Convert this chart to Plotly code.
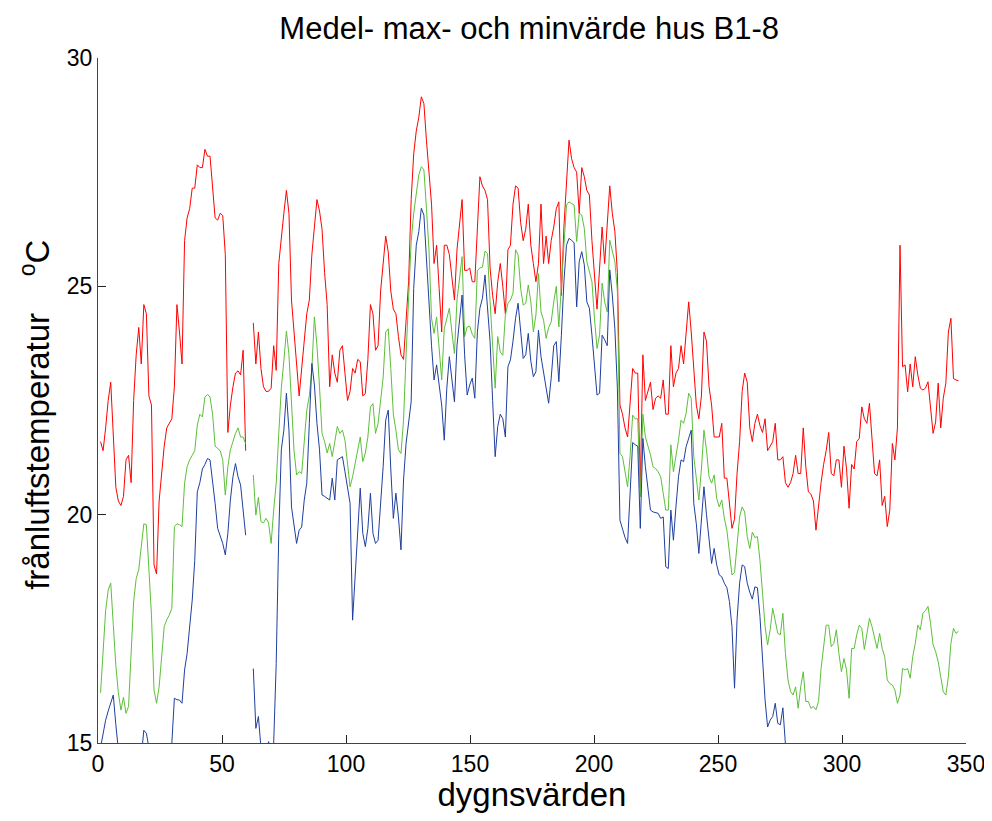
import plotly.graph_objects as go

# daily values, one reading per sample; None = missing day
max_temp = [
    21.6, 21.4, 21.9, 22.5, 22.9, 21.7, 20.6, 20.3, 20.2, 20.4,
    21.2, 21.3, 20.7, 22.5, 23.5, 24.1, 23.3, 24.6, 24.4, 22.6,
    22.4, 18.9, 18.7, 20.3, 21.0, 21.5, 21.9, 22.0, 22.1, 22.8,
    24.6, 24.0, 23.3, 26.0, 26.5, 26.7, 27.15, 27.15, 27.66, 27.6,
    27.6, 28.0, 27.85, 27.85, 27.2, 26.5, 26.45, 26.6, 26.55, 25.7,
    21.8, 22.4, 22.8, 23.1, 23.15, 23.06, 23.6, 21.4, None, None,
    24.2, 23.3, 24.0, 23.2, 22.8, 22.7, 22.7, 22.77, 23.7, 23.16,
    25.5, 26.1, 26.6, 27.1, 26.6, 24.7, 23.9, 23.3, 22.6, 23.2,
    23.7, 24.4, 24.7, 25.7, 26.3, 26.9, 26.65, 26.25, 25.3, 24.6,
    22.8, 23.5, 23.1, 22.9, 23.6, 23.7, 23.1, 22.5, 22.7, 23.2,
    23.1, 23.4, 23.35, 22.6, 22.65, 23.4, 24.6, 24.4, 23.6, 23.7,
    24.9, 25.5, 26.1, 25.75, 24.9, 24.5, 24.4, 23.9, 23.5, 23.4,
    24.2, 25.1, 26.9, 27.9, 28.4, 28.7, 29.15, 29.0, 28.2, 27.5,
    26.8, 25.5, 25.9, 24.95, 24.0, 25.9, 25.9, 25.7, 25.2, 24.7,
    25.8, 26.3, 26.9, 25.35, 25.35, 25.4, 25.1, 25.1, 26.3, 27.4,
    27.2, 27.1, 26.9, 25.4, 24.8, 24.4, 25.1, 25.5, 25.0, 24.4,
    25.8, 25.9, 26.8, 27.2, 27.15, 26.4, 26.0, 26.25, 26.8, 25.9,
    25.5, 25.1, 25.5, 26.8, 25.5, 26.1, 25.5, 26.0, 26.3, 26.7,
    26.85, 24.8, 26.3, 27.3, 28.2, 27.8, 27.6, 27.5, 26.6, 27.6,
    27.4, 27.1, 27.0, 26.0, 25.3, 24.5, 25.4, 26.3, 25.5, 26.5,
    27.2, 26.6, 26.2, 25.3, 22.4, 22.2, 21.9, 21.7, 22.5, 23.2,
    23.1, 23.1, 20.6, 23.5, 22.5, 22.7, 22.9, 22.3, 22.55, 22.6,
    22.55, 22.95, 22.2, 22.2, 23.7, 22.8, 23.1, 23.2, 23.7, 23.3,
    23.9, 24.66, 24.0, 23.1, 22.4, 22.1, 22.6, 24.0, 23.8, 22.8,
    22.4, 21.7, 21.7, 21.7, 22.0, 20.8, 20.8, 20.3, 19.7, 19.9,
    20.9, 21.6, 22.7, 23.1, 22.9, 21.9, 21.6, 22.0, 22.2, 21.95,
    21.8, 22.1, 21.4, 21.5, 21.6, 22.0, 21.2, 21.2, 21.27, 20.7,
    20.6, 20.7, 20.9, 21.3, 20.9, 20.9, 21.9, 21.05, 20.5, 20.45,
    20.3, 19.66, 20.2, 20.7, 21.1, 21.4, 21.8, 20.9, 20.85, 21.2,
    21.2, 20.6, 21.5, 21.0, 20.14, 21.1, 21.0, 21.6, 21.67, 22.36,
    22.1, 22.0, 22.44, 21.56, 20.9, 20.85, 21.2, 20.2, 20.4, 19.74,
    20.1, 21.56, 21.2, 21.9, 25.9, 23.24, 23.28, 22.69, 23.3, 22.8,
    23.46, 23.06, 22.77, 22.73, 22.77, 22.91, 22.4, 21.78, 22.03, 22.88,
    21.9, 22.55, 22.88, 24.0, 24.3, 22.98, 22.95, 22.93,
]

mean_temp = [
    16.1, 17.1, 17.9, 18.35, 18.5, 17.6, 16.7, 16.1, 15.72, 16.0,
    15.65, 15.8, 16.9, 18.1, 18.6, 18.8, 19.3, 19.8, 19.78, 18.86,
    17.8, 16.16, 15.87, 16.23, 16.95, 17.55, 17.7, 17.8, 17.95, 19.74,
    19.8, 19.78, 19.74, 20.69, 21.05, 21.2, 21.3, 21.4, 21.96, 22.2,
    22.14, 22.58, 22.63, 22.58, 22.2, 21.5, 21.45, 21.4, 21.2, 20.43,
    21.05, 21.42, 21.6, 21.78, 21.9, 21.7, 21.7, 21.55, None, None,
    20.87, 19.99, 20.38, 19.85, 19.82, 19.92, 19.82, 19.37, 20.1, 20.69,
    21.78, 22.77, 23.37, 24.02, 23.5, 22.5, 21.4, 20.87, 20.94, 20.9,
    21.7, 22.29, 22.6, 23.2, 24.33, 23.7, 22.8, 21.78, 21.6, 21.35,
    21.56, 21.27, 21.6, 21.93, 21.78, 21.85, 21.63, 21.12, 20.61, 20.83,
    21.1, 21.42, 21.7, 21.16, 21.35, 21.7, 22.36, 22.43, 21.78, 22.0,
    22.44, 23.0, 24.0, 24.07, 23.2, 22.2, 21.85, 21.42, 21.34, 22.07,
    23.5, 24.6, 25.98, 26.6, 27.0, 27.44, 27.62, 27.55, 26.71, 25.8,
    24.3, 23.97, 24.33, 23.7, 22.95, 24.07, 24.3, 24.52, 24.0, 23.53,
    24.7, 25.2, 25.65, 23.9, 24.11, 24.13, 23.95, 23.86, 25.35, 25.4,
    25.42, 25.77, 25.72, 24.66, 23.79, 22.77, 23.9, 23.56, 23.49, 24.37,
    24.63, 24.7, 24.85, 25.8, 25.69, 24.96, 24.59, 24.63, 25.03, 24.66,
    24.0, 24.37, 25.28, 24.44, 24.26, 23.86, 24.1, 24.22, 24.66, 25.0,
    24.11, 24.96, 25.98, 26.78, 26.85, 26.81, 26.78, 25.98, 26.6, 26.56,
    26.27, 25.54, 25.3, 25.1, 24.3, 23.64, 23.93, 25.07, 24.66, 24.44,
    26.01, 25.8, 25.54, 24.9, 21.34, 21.27, 20.98, 20.61, 21.3, 22.18,
    22.1, 22.1, 20.39, 22.2, 21.7, 21.5, 21.31, 21.05, 21.01, 20.94,
    20.83, 20.47, 20.1, 20.1, 21.53, 20.94, 21.27, 21.63, 22.07, 22.0,
    22.22, 22.66, 22.55, 21.27, 20.8, 20.32, 21.0, 21.85, 21.42, 20.83,
    20.69, 20.87, 20.36, 20.17, 20.32, 19.92, 19.66, 19.15, 18.68, 18.73,
    19.44, 19.95, 20.17, 20.06, 19.52, 19.26, 19.62, 19.5, 19.52, 19.0,
    18.28, 17.55, 17.15, 17.48, 17.95, 17.7, 17.4, 17.37, 17.84, 16.96,
    16.38, 16.13, 16.05, 16.23, 15.76, 16.23, 16.56, 15.91, 15.91, 15.76,
    15.8, 15.73, 15.91, 16.63, 17.15, 17.58, 17.58, 17.11, 17.18, 17.48,
    16.96, 16.56, 16.85, 16.6, 15.98, 17.07, 17.07, 17.37, 17.58, 17.51,
    17.05, 17.4, 17.73, 17.55, 17.3, 17.07, 17.4, 17.07, 16.89, 16.38,
    16.3, 16.27, 16.16, 15.87, 16.05, 16.63, 16.6, 16.63, 16.42, 16.89,
    17.18, 17.58, 17.48, 17.84, 17.9, 17.99, 17.62, 17.15, 17.0, 16.78,
    16.45, 16.12, 16.05, 16.45, 17.18, 17.51, 17.4, 17.45,
]

min_temp = [
    14.9, 15.21, 15.5, 15.7, 15.87, 16.05, 15.4, 14.8, 14.3, 14.0,
    13.8, 13.9, 14.0, 14.2, 14.3, 14.5, 14.7, 15.28, 15.21, 14.9,
    14.3, 13.9, 13.7, 13.8, 14.0, 14.2, 14.3, 14.5, 15.0, 15.98,
    15.95, 15.94, 15.87, 16.6, 16.96, 17.55, 18.13, 19.0, 20.5, 20.7,
    21.0, 21.1, 21.23, 21.2, 20.76, 20.25, 19.7, 19.55, 19.37, 19.12,
    19.59, 20.32, 20.83, 21.12, 20.83, 20.65, 20.1, 19.55, None, None,
    16.63, 15.32, 15.58, 14.9, 14.5, 14.8, 15.03, 14.8, 15.0, 16.74,
    19.59, 21.42, 21.85, 22.66, 21.85, 20.17, 19.82, 19.37, 19.66, 19.73,
    20.32, 20.69, 22.0, 23.31, 22.84, 22.0, 21.42, 20.43, 20.4, 20.36,
    20.32, 20.8, 20.32, 21.2, 21.24, 21.27, 20.94, 20.61, 20.25, 17.69,
    18.73, 19.59, 20.58, 19.59, 19.3, 19.7, 20.47, 19.59, 19.37, 19.44,
    20.2, 21.05, 22.07, 22.29, 21.0, 19.92, 20.47, 19.95, 19.23, 20.76,
    21.56, 22.0, 22.47, 24.95, 25.9, 26.2, 26.71, 26.56, 25.54, 24.44,
    23.7, 22.95, 23.28, 22.84, 22.4, 21.63, 22.77, 23.46, 22.99, 22.47,
    23.7, 24.22, 24.81, 23.5, 22.62, 22.84, 22.99, 22.55, 24.0, 24.52,
    24.74, 25.25, 24.44, 23.79, 22.5, 21.27, 21.93, 22.2, 22.1, 21.7,
    23.24, 23.39, 23.8, 24.3, 24.63, 24.0, 23.42, 23.5, 23.97, 23.36,
    23.02, 23.13, 24.04, 23.46, 23.1, 22.7, 22.44, 22.99, 23.7, 23.79,
    22.91, 23.93, 25.1, 25.9, 26.05, 26.01, 25.95, 24.55, 25.54, 25.76,
    25.47, 24.66, 24.52, 23.93, 23.28, 22.62, 22.66, 23.93, 23.83, 23.7,
    25.36, 24.81, 24.07, 22.77, 19.88, 19.66, 19.5, 19.37, 20.61, 21.58,
    21.53, 21.5, 19.7, 21.67, 21.05, 20.54, 20.1, 20.06, 20.05, 20.03,
    19.92, 19.95, 18.86, 18.82, 20.1, 19.44, 20.17, 20.83, 21.2, 21.16,
    21.49, 21.7, 21.85, 20.25, 19.8, 19.15, 20.0, 20.61, 20.0, 19.5,
    18.93, 19.26, 18.9, 18.68, 18.64, 18.5, 18.4, 18.1, 17.55, 16.2,
    17.7, 18.5, 18.9, 18.86, 18.5, 18.3, 18.15, 18.42, 18.4, 17.77,
    16.82, 15.94, 15.35, 15.5, 15.58, 15.87, 15.43, 15.4, 15.77, 14.97,
    14.6, 14.4, 14.2, 14.3, 14.1, 14.0, 13.9, 14.1, 13.8, 13.7,
    13.6, 13.5, 13.7, 13.9, 14.2, 14.4, 14.1, 13.9, 13.8, 14.0,
    13.6, 13.8, 13.7, 13.5, 13.2, 13.8, 13.9, 14.2, 14.3, 14.5,
    14.1, 14.3, 14.5, 14.2, 13.9, 13.8, 14.1, 13.7, 13.5, 13.1,
    13.2, 13.9, 13.8, 13.4, 13.6, 13.8, 13.9, 13.7, 13.9, 14.2,
    14.3, 14.6, 14.5, 14.6, 14.7, 14.7, 14.3, 14.0, 13.8, 13.6,
    13.2, 13.1, 13.4, 14.0, 14.3, 14.2, 14.1, 14.2,
]

# samples were read evenly across the record, which runs to about day 347
days = [round(i * 347 / 338, 2) for i in range(1, len(max_temp) + 1)]

x_ticks = [0, 50, 100, 150, 200, 250, 300, 350]
y_ticks = [15, 20, 25, 30]

FONT = "Liberation Sans, Arial, sans-serif"
NB = "\u00a0"

fig = go.Figure()
for vals, col, name in [(max_temp, "#ff0000", "max"),
                        (mean_temp, "#5dbf3a", "medel"),
                        (min_temp, "#1f3f9f", "min")]:
    fig.add_trace(go.Scatter(x=days, y=vals, mode="lines", name=name,
                             line=dict(color=col, width=1),
                             connectgaps=False))

# the page body adds an 8px margin, so the figure is sized to fit inside the window
fig.update_layout(
    width=976, height=805,
    paper_bgcolor="white", plot_bgcolor="white",
    showlegend=False,
    margin=dict(l=90, r=18, t=50, b=70),
    font=dict(family=FONT, color="black"),
    title=dict(text="Medel- max- och minvärde hus B1-8", x=0.534, xanchor="center",
               y=0.975, yanchor="middle", font=dict(size=31)),
)
fig.update_xaxes(
    range=[0, 350], tickvals=x_ticks,
    ticks="inside", ticklen=8, tickcolor="#222",
    showline=True, linecolor="#444", linewidth=1, showgrid=False, zeroline=False,
    tickfont=dict(size=23), automargin=False, ticklabeloverflow="allow",
    title=dict(text="dygnsvärden", font=dict(size=33), standoff=13),
)
fig.update_yaxes(
    range=[15, 30], tickvals=y_ticks, ticks="inside", ticklen=8, tickcolor="#222",
    showline=True, linecolor="#444", linewidth=1, showgrid=False, zeroline=False,
    tickfont=dict(size=23), automargin=False,
)

# y label as rotated annotation so it can sit where the reference has it
fig.add_annotation(
    text="frånluftstemperatur" + NB * 4 + "<sup>o</sup>C",
    xref="paper", yref="paper", x=-0.0726, y=0.479,
    xanchor="center", yanchor="middle", textangle=-90,
    showarrow=False, font=dict(size=33),
)

fig.write_html("out.html")
